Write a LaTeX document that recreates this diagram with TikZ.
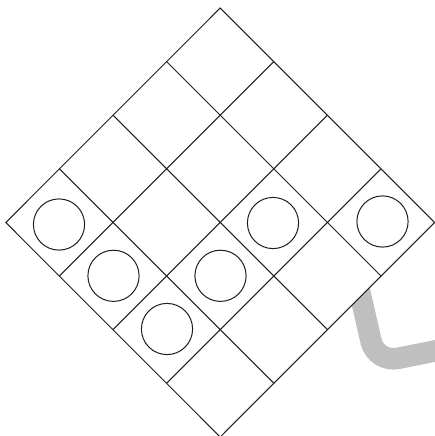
\documentclass[tikz,border=0pt]{standalone}
\usetikzlibrary{calc}
\begin{document}
\begin{tikzpicture}[x=1pt,y=-1pt,
  gridline/.style={line width=1pt,draw=black!88},
  token/.style={line width=1pt,draw=black!88}]
\useasboundingbox (0,0) rectangle (435,436);
% gray hook behind the board
\draw[line width=21.5pt,draw=black!25,rounded corners=22pt] (357,280) -- (376,362.7) -- (445,349);
% board
\coordinate (T) at (220.2,8);
\coordinate (L) at (5.8,222.5);
\coordinate (B) at (220.2,437);
\coordinate (R) at (434.6,222.5);
\fill[white] (T) -- (R) -- (B) -- (L) -- cycle;
\foreach \k in {1,2,3}{
  \draw[gridline] ($(T)+(-53.6*\k,53.6*\k)$) -- ++(214.4,214.4);
  \draw[gridline] ($(T)+(53.6*\k,53.6*\k)$) -- ++(-214.4,214.4);
}
\draw[gridline,line join=miter] (T) -- (R) -- (B) -- (L) -- cycle;
% tokens
\draw[token] (59,224.5) circle (25.6);
\draw[token] (113.5,275.8) circle (25.6);
\draw[token] (167,329) circle (25.6);
\draw[token] (220.5,275.8) circle (25.6);
\draw[token] (273,223) circle (25.6);
\draw[token] (382.5,221.5) circle (25.6);
\end{tikzpicture}
\end{document}
